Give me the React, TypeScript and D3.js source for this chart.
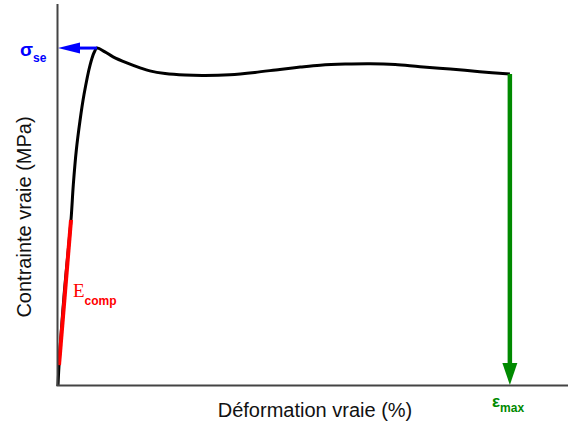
import React from "react";
import * as d3 from "d3";

const strain = [0, 0.2, 1.2, 2.55, 3.0, 3.6, 4.3, 5.1, 6.3, 7.1, 7.65, 9.2, 10.8, 13.5, 16.1, 18.0, 21.0, 24.9, 28.8, 33.7, 38.6, 43.5, 47.5, 51.4, 56.3, 61.2, 66.1, 71.0, 76.9, 82.7, 88.6];
const stress = [0, 5.5, 24.0, 43.6, 52.8, 62.0, 69.5, 76.5, 84.3, 87.6, 88.7, 87.7, 86.4, 84.8, 83.5, 82.7, 82.0, 81.6, 81.5, 81.7, 82.3, 83.1, 83.7, 84.2, 84.5, 84.6, 84.4, 83.8, 83.2, 82.5, 81.9];
const modStrain = [0.2, 2.55];
const modStress = [5.5, 43.6];
const yieldPoint = [7.65, 88.7];
const maxPoint = [88.6, 81.9];
const xLabel = "Déformation vraie (%)";
const yLabel = "Contrainte vraie (MPa)";

const W = 568, H = 423;
const x0 = 58, x1 = 568, y0 = 386, y1 = 5;

export default function App() {
  const x = d3.scaleLinear().domain([0, 100]).range([x0, x1]);
  const y = d3.scaleLinear().domain([0, 100]).range([y0, y1]);
  const pts: [number, number][] = strain.map((s, i) => [s, stress[i]]);
  const line = d3.line<[number, number]>().x(d => x(d[0])).y(d => y(d[1])).curve(d3.curveCatmullRom.alpha(0.5));
  const modLine = d3.line<[number, number]>().x(d => x(d[0])).y(d => y(d[1]));
  const modPts: [number, number][] = modStrain.map((s, i) => [s, modStress[i]]);

  const yx = x(yieldPoint[0]), yy = y(yieldPoint[1]);
  const bTip = x(0);
  const mx = x(maxPoint[0]), my = y(maxPoint[1]);
  const gTip = y(0) - 1;

  return (
    <svg width={W} height={H} style={{ position: "absolute", left: 0, top: 0, background: "#fff" }}>
      <path d={line(pts) || ""} fill="none" stroke="#000" strokeWidth={3} strokeLinejoin="round" />
      <path d={modLine(modPts) || ""} fill="none" stroke="#ff0000" strokeWidth={4} strokeLinecap="butt" />
      {/* blue arrow */}
      <line x1={yx} y1={yy} x2={bTip + 18} y2={yy} stroke="#0000ff" strokeWidth={3} />
      <path d={`M${bTip},${yy} L${bTip + 22},${yy - 5.5} L${bTip + 22},${yy + 5.5} Z`} fill="#0000ff" />
      {/* green arrow */}
      <line x1={mx} y1={my} x2={mx} y2={gTip - 18} stroke="#008a00" strokeWidth={4.5} />
      <path d={`M${mx},${gTip} L${mx - 7.5},${gTip - 22} L${mx + 7.5},${gTip - 22} Z`} fill="#008a00" />
      {/* axes */}
      <line x1={x0 - 0.5} y1={y1 - 1} x2={x0 - 0.5} y2={y0} stroke="#444" strokeWidth={2} />
      <line x1={x0 - 1.5} y1={y0 - 0.5} x2={x1} y2={y0 - 0.5} stroke="#444" strokeWidth={2} />
      {/* labels */}
      <text x={315} y={417} textAnchor="middle" fontFamily="Liberation Sans, Arial, sans-serif" fontSize={20} fill="#111">{xLabel}</text>
      <text transform="translate(31,217) rotate(-90)" textAnchor="middle" fontFamily="Liberation Sans, Arial, sans-serif" fontSize={20} fill="#111">{yLabel}</text>
      <text x={20} y={56} fill="#0000ff" fontFamily="Liberation Sans, Arial, sans-serif" fontWeight="bold">
        <tspan fontSize={19}>σ</tspan>
        <tspan fontSize={12} dy={6}>se</tspan>
      </text>
      <text x={492} y={407} fill="#008a00" fontFamily="Liberation Sans, Arial, sans-serif" fontWeight="bold">
        <tspan fontSize={17}>ε</tspan>
        <tspan fontSize={12} dy={5}>max</tspan>
      </text>
      <text x={73} y={297} fill="#ff0000">
        <tspan fontFamily="Liberation Serif, Times New Roman, serif" fontSize={19}>E</tspan>
        <tspan fontFamily="Liberation Sans, Arial, sans-serif" fontWeight="bold" fontSize={12} dy={8}>comp</tspan>
      </text>
    </svg>
  );
}
